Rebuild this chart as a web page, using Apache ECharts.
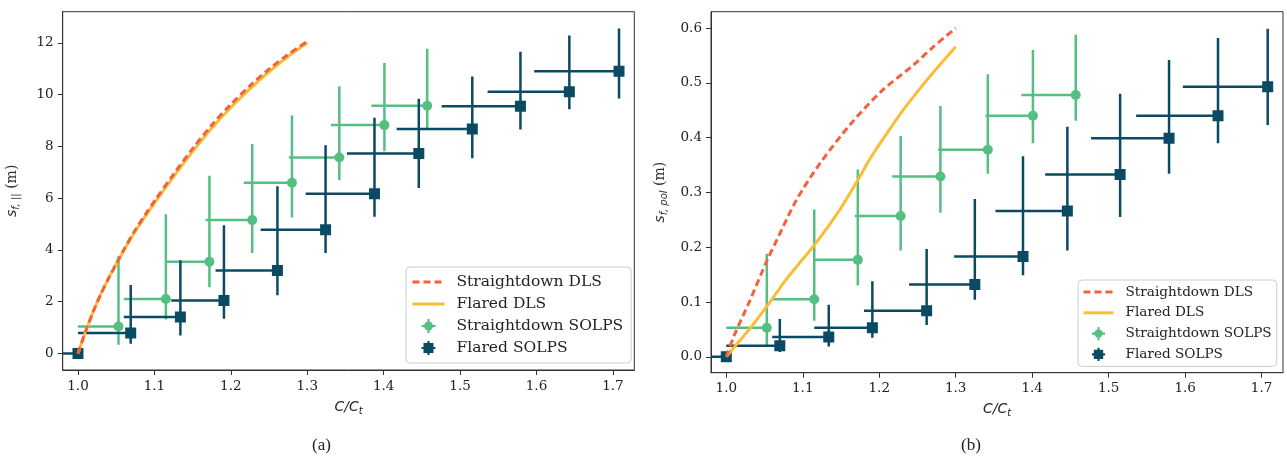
<!DOCTYPE html>
<html><head><meta charset="utf-8">
<script src="https://cdn.jsdelivr.net/npm/echarts@6/dist/echarts.min.js"></script>
<style>html,body{margin:0;padding:0;background:#fff}#c{width:1287px;height:466px}</style>
</head><body><div id="c"></div>
<script>
// ---- tick labels ----
const xTicks = [1.0, 1.1, 1.2, 1.3, 1.4, 1.5, 1.6, 1.7];
const yTicksPar = [0, 2, 4, 6, 8, 10, 12];
const yTicksPol = [0, 0.1, 0.2, 0.3, 0.4, 0.5, 0.6];

// ---- panel (a): s_f,|| ----
const dlsParX = [1.000, 1.010, 1.020, 1.030, 1.040, 1.050, 1.060, 1.075, 1.090, 1.100, 1.125, 1.150, 1.175, 1.200, 1.225, 1.250, 1.275, 1.300];
const straightDlsPar = [0.00, 0.85, 1.62, 2.30, 2.90, 3.45, 4.01, 4.77, 5.45, 5.88, 6.92, 7.91, 8.82, 9.62, 10.34, 10.98, 11.55, 12.05];
const flaredDlsPar = [0.00, 0.85, 1.62, 2.30, 2.90, 3.45, 3.98, 4.72, 5.38, 5.80, 6.82, 7.80, 8.70, 9.50, 10.22, 10.88, 11.47, 12.00];

const sSolpsParX = [1.053, 1.115, 1.172, 1.228, 1.280, 1.342, 1.401, 1.457];
const sSolpsParY = [1.04, 2.10, 3.54, 5.15, 6.59, 7.57, 8.82, 9.57];
const sSolpsParXlo = [1.000, 1.060, 1.116, 1.167, 1.217, 1.276, 1.331, 1.384];
const sSolpsParYlo = [0.34, 1.31, 2.56, 3.88, 5.25, 6.69, 7.81, 8.66];
const sSolpsParYhi = [3.75, 5.38, 6.86, 8.09, 9.19, 10.32, 11.22, 11.77];

const fSolpsParX = [1.000, 1.069, 1.134, 1.191, 1.261, 1.324, 1.388, 1.446, 1.516, 1.579, 1.643, 1.708];
const fSolpsParY = [0.00, 0.79, 1.41, 2.04, 3.20, 4.78, 6.17, 7.72, 8.67, 9.55, 10.11, 10.90];
const fSolpsParXlo = [0.96, 1.000, 1.060, 1.122, 1.180, 1.239, 1.298, 1.352, 1.417, 1.476, 1.536, 1.597];
const fSolpsParYlo = [0.00, 0.37, 0.69, 1.34, 2.25, 3.88, 5.28, 6.39, 7.54, 8.65, 9.43, 9.85];
const fSolpsParYhi = [0.00, 2.64, 3.60, 4.95, 6.46, 8.04, 9.10, 9.84, 10.70, 11.65, 12.28, 12.55];

// ---- panel (b): s_f,pol ----
const straightDlsPolX = [1.000, 1.010, 1.030, 1.053, 1.066, 1.092, 1.123, 1.162, 1.203, 1.245, 1.270, 1.300];
const straightDlsPol = [0.000, 0.038, 0.100, 0.175, 0.213, 0.287, 0.354, 0.424, 0.485, 0.533, 0.565, 0.600];
const flaredDlsPolX = [1.000, 1.010, 1.030, 1.053, 1.075, 1.095, 1.110, 1.125, 1.150, 1.170, 1.190, 1.210, 1.230, 1.250, 1.270, 1.300];
const flaredDlsPol = [0.000, 0.017, 0.050, 0.092, 0.135, 0.170, 0.195, 0.222, 0.272, 0.318, 0.366, 0.408, 0.448, 0.484, 0.518, 0.566];

const sSolpsPolX = [1.053, 1.115, 1.172, 1.228, 1.280, 1.342, 1.401, 1.457];
const sSolpsPolY = [0.053, 0.105, 0.177, 0.257, 0.329, 0.378, 0.440, 0.478];
const sSolpsPolXlo = [1.000, 1.060, 1.116, 1.168, 1.217, 1.277, 1.339, 1.386];
const sSolpsPolYlo = [0.021, 0.066, 0.130, 0.194, 0.263, 0.334, 0.390, 0.431];
const sSolpsPolYhi = [0.188, 0.269, 0.342, 0.403, 0.458, 0.516, 0.560, 0.588];

const fSolpsPolX = [1.000, 1.070, 1.134, 1.191, 1.262, 1.325, 1.388, 1.446, 1.515, 1.579, 1.643, 1.708];
const fSolpsPolY = [0.000, 0.020, 0.036, 0.053, 0.084, 0.132, 0.183, 0.266, 0.333, 0.399, 0.440, 0.493];
const fSolpsPolXlo = [0.96, 1.000, 1.060, 1.115, 1.180, 1.239, 1.298, 1.352, 1.417, 1.477, 1.536, 1.597];
const fSolpsPolYlo = [0.000, 0.009, 0.019, 0.035, 0.058, 0.104, 0.149, 0.194, 0.255, 0.334, 0.390, 0.423];
const fSolpsPolYhi = [0.000, 0.069, 0.095, 0.138, 0.197, 0.288, 0.366, 0.420, 0.480, 0.542, 0.582, 0.599];

// ---- styles ----
const C_SD_DLS = '#F5613A';
const C_FL_DLS = '#F9BE35';
const C_SD_SOLPS = '#55BF82';
const C_FL_SOLPS = '#0B4A63';
const AXC = '#333333';
const TXT = '#222222';

const names = ['Straightdown DLS', 'Flared DLS', 'Straightdown SOLPS', 'Flared SOLPS'];
const specks = 'M0,0h0.01v0.01h-0.01z M31.99,13.99h0.01v0.01h-0.01z ';
const crossArms = 'M14.9,0h2.2v14h-2.2z M9,5.9h14v2.2h-14z ';
const iconCircle = 'path://' + specks + crossArms + 'M11.5,7a4.5,4.5 0 1 1 9,0a4.5,4.5 0 1 1 -9,0z';
const iconSquare = 'path://' + specks + crossArms + 'M11,2h10v10h-10z';

function pairs(xs, ys) { return xs.map((x, i) => [x, ys[i]]); }

function lineSeries(name, idx, xs, ys, color, dashed) {
  return {
    name, type: 'line', xAxisIndex: idx, yAxisIndex: idx, data: pairs(xs, ys),
    symbol: 'none', showSymbol: false, smooth: 0.3, z: 5, clip: true,
    lineStyle: { color, width: 3, type: dashed ? [7, 4] : 'solid' },
    itemStyle: { color }
  };
}

function errSeries(name, idx, color, shape, xs, ys, xlo, ylo, yhi) {
  const data = xs.map((x, i) => [x, ys[i], xlo[i], ylo[i], yhi[i]]);
  return {
    name, type: 'custom', xAxisIndex: idx, yAxisIndex: idx, clip: true, z: 3,
    itemStyle: { color }, encode: { x: 0, y: 1 }, data,
    renderItem: function (params, api) {
      const x = api.value(0), y = api.value(1), xl = api.value(2), yl = api.value(3), yh = api.value(4);
      const c = api.coord([x, y]), l = api.coord([xl, y]), t = api.coord([x, yh]), b = api.coord([x, yl]);
      const st = { stroke: color, lineWidth: 2.5 };
      const ch = [
        { type: 'line', shape: { x1: l[0], y1: c[1], x2: c[0], y2: c[1] }, style: st },
        { type: 'line', shape: { x1: c[0], y1: t[1], x2: c[0], y2: b[1] }, style: st }
      ];
      if (shape === 'circle') ch.push({ type: 'circle', shape: { cx: c[0], cy: c[1], r: 5 }, style: { fill: color } });
      else ch.push({ type: 'rect', shape: { x: c[0] - 5.5, y: c[1] - 5.5, width: 11, height: 11 }, style: { fill: color } });
      return { type: 'group', children: ch };
    }
  };
}

function xAxisCfg(idx) {
  return {
    type: 'value', gridIndex: idx, min: 0.98, max: 1.728,
    name: '{i|C/C}{sub|t}', nameLocation: 'middle', nameGap: 28,
    nameTextStyle: { rich: {
      i: { fontFamily: 'DejaVu Sans', fontStyle: 'italic', fontSize: 14, color: TXT, lineHeight: 18, verticalAlign: 'middle' },
      sub: { fontFamily: 'DejaVu Sans', fontStyle: 'italic', fontSize: 10, color: TXT, lineHeight: 18, verticalAlign: 'bottom' }
    } },
    axisLine: { show: true, onZero: false, lineStyle: { color: AXC, width: 1 } },
    axisTick: { show: true, length: 5, customValues: xTicks, lineStyle: { color: AXC } },
    axisLabel: { customValues: xTicks, formatter: v => v.toFixed(1), fontFamily: 'DejaVu Serif', fontSize: 13.5, color: TXT, margin: 9 },
    splitLine: { show: false }
  };
}

function yAxisCfg(idx, min, max, ticks, sub, gap, fmt) {
  return {
    type: 'value', gridIndex: idx, min, max,
    name: '{i|s}{sub|' + sub + '}{n| (m)}', nameLocation: 'middle', nameGap: gap, nameRotate: 90,
    nameTextStyle: { rich: {
      i: { fontFamily: 'DejaVu Sans', fontStyle: 'italic', fontSize: 14, color: '#333', lineHeight: 18, verticalAlign: 'middle' },
      sub: { fontFamily: 'DejaVu Sans', fontStyle: 'italic', fontSize: 10, color: '#333', lineHeight: 18, verticalAlign: 'bottom' },
      n: { fontFamily: 'DejaVu Serif', fontSize: 14, color: '#333', lineHeight: 18, verticalAlign: 'middle' }
    } },
    axisLine: { show: true, onZero: false, lineStyle: { color: AXC, width: 1 } },
    axisTick: { show: true, length: 5, customValues: ticks, lineStyle: { color: AXC } },
    axisLabel: { customValues: ticks, formatter: fmt, fontFamily: 'DejaVu Serif', fontSize: 13.5, color: TXT, margin: 9 },
    splitLine: { show: false }
  };
}

function legendCfg(idx, left, top, fontSize, lineH, gap, pad, iw) {
  const hide = { opacity: 0, color: 'rgba(0,0,0,0)', borderWidth: 0 };
  return {
    show: true, orient: 'vertical', left, top, selectedMode: false,
    itemWidth: iw, itemHeight: 14, itemGap: gap, padding: pad,
    borderColor: '#cccccc', borderWidth: 1, borderRadius: 4, backgroundColor: 'rgba(255,255,255,0.85)',
    lineStyle: { width: 3 },
    textStyle: { fontFamily: 'DejaVu Serif', fontSize, color: TXT, lineHeight: lineH, padding: [0, 0, 0, 7] },
    data: [
      { name: names[0], itemStyle: hide }, { name: names[1], itemStyle: hide },
      { name: names[2], icon: iconCircle }, { name: names[3], icon: iconSquare }
    ]
  };
}

const option = {
  animation: false,
  backgroundColor: '#ffffff',
  grid: [
    { left: 62.7, top: 11.7, width: 571.6, height: 358.3, show: true, borderColor: AXC, borderWidth: 1, backgroundColor: 'transparent' },
    { left: 711, top: 11.7, width: 572, height: 361, show: true, borderColor: AXC, borderWidth: 1, backgroundColor: 'transparent' }
  ],
  xAxis: [xAxisCfg(0), xAxisCfg(1)],
  yAxis: [
    yAxisCfg(0, -0.64, 13.2, yTicksPar, 'f, ||', 41, v => String(v)),
    yAxisCfg(1, -0.029, 0.630, yTicksPol, 'f, pol', 42, v => v.toFixed(1))
  ],
  legend: [
    legendCfg(0, 406, 267, 15.5, 16, 6, [7, 8, 7, 5], 32),
    legendCfg(1, 1078, 280, 13.6, 14, 6.8, [5, 5, 5, 4], 30)
  ],
  series: [
    errSeries(names[2], 0, C_SD_SOLPS, 'circle', sSolpsParX, sSolpsParY, sSolpsParXlo, sSolpsParYlo, sSolpsParYhi),
    errSeries(names[3], 0, C_FL_SOLPS, 'square', fSolpsParX, fSolpsParY, fSolpsParXlo, fSolpsParYlo, fSolpsParYhi),
    lineSeries(names[1], 0, dlsParX, flaredDlsPar, C_FL_DLS, false),
    lineSeries(names[0], 0, dlsParX, straightDlsPar, C_SD_DLS, true),
    errSeries(names[2], 1, C_SD_SOLPS, 'circle', sSolpsPolX, sSolpsPolY, sSolpsPolXlo, sSolpsPolYlo, sSolpsPolYhi),
    errSeries(names[3], 1, C_FL_SOLPS, 'square', fSolpsPolX, fSolpsPolY, fSolpsPolXlo, fSolpsPolYlo, fSolpsPolYhi),
    lineSeries(names[1], 1, flaredDlsPolX, flaredDlsPol, C_FL_DLS, false),
    lineSeries(names[0], 1, straightDlsPolX, straightDlsPol, C_SD_DLS, true)
  ],
  graphic: [
    { type: 'text', left: 312, top: 437, style: { text: '(a)', fontFamily: 'Liberation Serif', fontSize: 17, fill: TXT } },
    { type: 'text', left: 961, top: 437, style: { text: '(b)', fontFamily: 'Liberation Serif', fontSize: 17, fill: TXT } }
  ]
};

const chart = echarts.init(document.getElementById('c'), null, { renderer: 'canvas' });
chart.setOption(option);
</script>
</body></html>
